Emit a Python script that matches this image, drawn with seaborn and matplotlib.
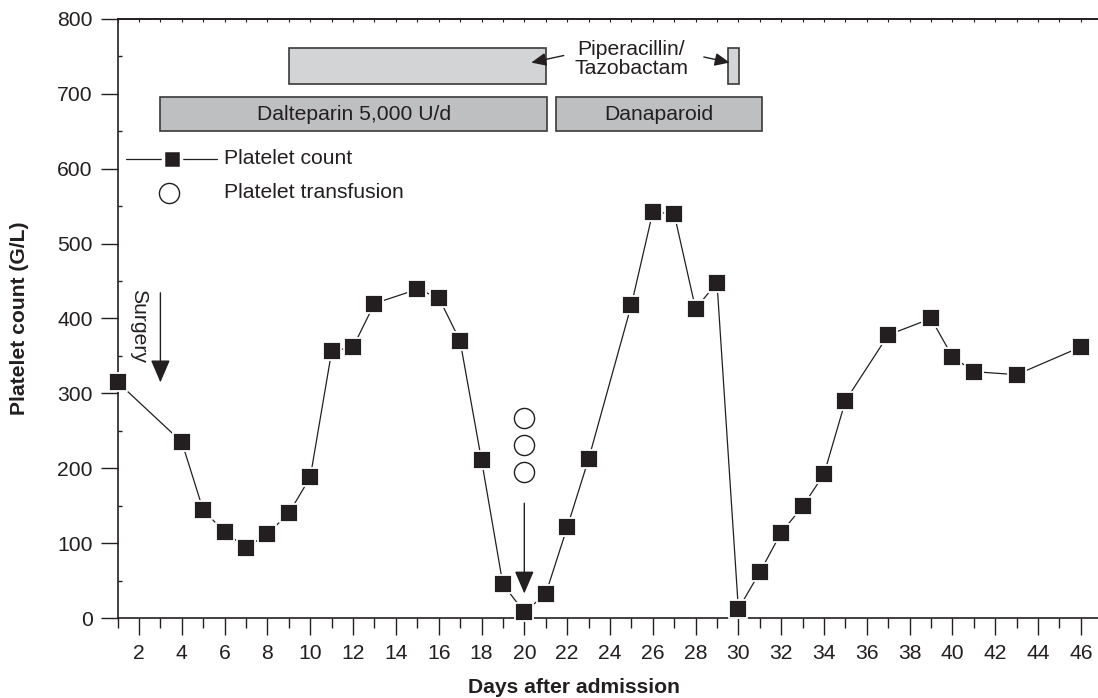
import numpy as np
import pandas as pd
import matplotlib
matplotlib.use('Agg')
import matplotlib.pyplot as plt
import seaborn as sns

# platelet count per day
days = [1, 4, 5, 6, 7, 8, 9, 10, 11, 12, 13, 15, 16, 17, 18, 19, 20, 21, 22, 23,
        25, 26, 27, 28, 29, 30, 31, 32, 33, 34, 35, 37, 39, 40, 41, 43, 46]
counts = [315, 235, 144, 115, 94, 112, 140, 188, 356, 362, 420, 439, 428, 370, 211, 45, 8, 32, 121, 212,
          418, 542, 540, 413, 448, 12, 61, 114, 149, 192, 290, 378, 400, 349, 329, 325, 362]

# platelet transfusions
transfusion_days = [20, 20, 20]
transfusion_vals = [195, 231, 267]

# drug bars: (label, start day, end day)
anticoag_names = ['Dalteparin 5,000 U/d', 'Danaparoid']
anticoag_start = [3, 21.5]
anticoag_end = [21.05, 31.1]
pip_start = [9, 29.5]
pip_end = [21, 30.05]

sns.set_style('ticks')
plt.rcParams['font.family'] = ['Liberation Sans', 'DejaVu Sans']

ink = '#231f20'
fs = 15.2
fig = plt.figure(figsize=(10.98, 6.98), dpi=100)
ax = fig.add_axes([0.1071, 0.1146, 0.8929, 0.8582])

df = pd.DataFrame({'day': days, 'count': counts})
sns.lineplot(data=df, x='day', y='count', ax=ax, color=ink, lw=0.9,
             marker='s', markersize=12.5, markerfacecolor=ink,
             markeredgecolor='white', markeredgewidth=1.3, clip_on=False, zorder=5)
ax.plot(transfusion_days, transfusion_vals, ls='none', marker='o', markersize=14.5,
        markerfacecolor='white', markeredgecolor=ink, markeredgewidth=1)

# drug bars
for s, e in zip(pip_start, pip_end):
    ax.barh(737, e - s, left=s, height=48, color='#d3d4d6', edgecolor='#3a3a3a', lw=1.2)
for name, s, e in zip(anticoag_names, anticoag_start, anticoag_end):
    ax.barh(673, e - s, left=s, height=46, color='#bebfc1', edgecolor='#3a3a3a', lw=1.2)
    ax.text((s + e) / 2, 672, name, ha='center', va='center', fontsize=fs, color=ink)

ax.text(25, 746, 'Piperacillin/\nTazobactam', ha='center', va='center', fontsize=fs,
        color=ink, linespacing=1.0)
small = dict(arrowstyle='-|>,head_width=0.22,head_length=0.5', color=ink, lw=1, mutation_scale=18)
ax.annotate('', xy=(20.2, 741), xytext=(21.97, 752), arrowprops=small)
ax.annotate('', xy=(29.72, 741), xytext=(28.26, 750), arrowprops=small)

big = dict(arrowstyle='-|>,head_width=0.3,head_length=0.7', color=ink, lw=1, mutation_scale=20)
ax.annotate('', xy=(3, 311), xytext=(3, 438), arrowprops=big)
ax.text(2.0, 390, 'Surgery', rotation=-90, ha='center', va='center', fontsize=fs, color=ink)
ax.annotate('', xy=(20, 29), xytext=(20, 157), arrowprops=big)

# legend drawn in data space
ax.plot([1.39, 5.64], [613, 613], color=ink, lw=0.9, clip_on=False)
ax.plot([3.53], [613], ls='none', marker='s', markersize=12.5, markerfacecolor=ink,
        markeredgecolor='white', markeredgewidth=2.5)
ax.text(5.97, 614, 'Platelet count', ha='left', va='center', fontsize=fs, color=ink)
ax.plot([3.4], [568], ls='none', marker='o', markersize=14.5, markerfacecolor='white',
        markeredgecolor=ink, markeredgewidth=1)
ax.text(5.97, 568, 'Platelet transfusion', ha='left', va='center', fontsize=fs, color=ink)

ax.set_xlim(1, 46.8)
ax.set_ylim(0, 800)
ax.set_xticks(np.arange(2, 47, 2))
ax.set_xticks(np.arange(1, 47, 2), minor=True)
ax.set_yticks(np.arange(0, 801, 100))
ax.set_yticks(np.arange(50, 800, 100), minor=True)
ax.tick_params(axis='both', which='major', labelsize=fs, colors=ink, width=1, length=12)
ax.tick_params(axis='x', which='minor', length=7, width=1, colors=ink)
ax.tick_params(axis='y', which='minor', direction='in', length=3, width=1, colors=ink)
ax.tick_params(axis='x', which='major', pad=7)
ax.tick_params(axis='y', which='major', pad=6)

sec = ax.secondary_xaxis('top')
sec.set_xticks(np.arange(1, 47, 1))
sec.tick_params(direction='in', length=2, width=0.8, labeltop=False, colors=ink)

for side in ['left', 'bottom', 'top']:
    ax.spines[side].set_color(ink)
    ax.spines[side].set_linewidth(1.2)
sec.spines['top'].set_color(ink)
sec.spines['top'].set_linewidth(1.2)
ax.spines['right'].set_visible(False)

ax.set_xlabel('Days after admission', fontsize=fs, fontweight='bold', color=ink)
ax.set_ylabel('Platelet count (G/L)', fontsize=fs, fontweight='bold', color=ink)
ax.xaxis.set_label_coords(0.465, -0.1)
ax.yaxis.set_label_coords(-0.09, 0.5)

fig.savefig('out.png', dpi=100)
